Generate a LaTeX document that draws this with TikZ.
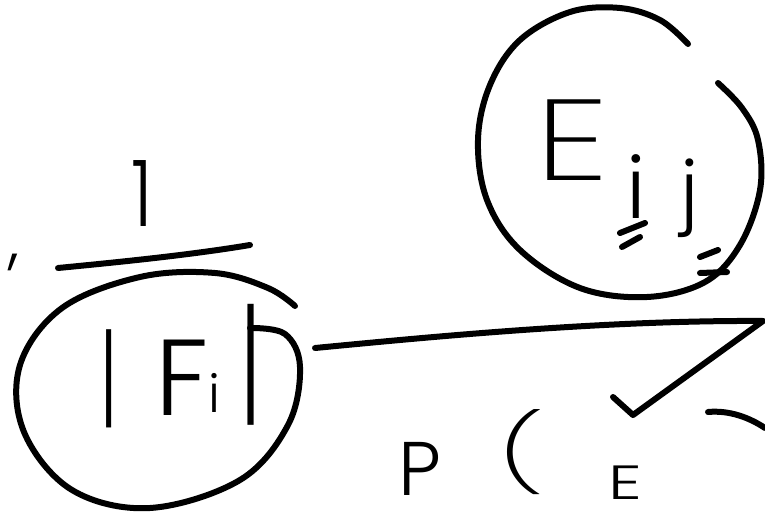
\documentclass[tikz,border=0pt]{standalone}
\usepackage{fontspec}
\newfontfamily\hand{Poppins Light}
\newfontfamily\handthin{Poppins ExtraLight}
\begin{document}
\begin{tikzpicture}[x=1pt,y=-1pt,
  ink/.style={line width=6pt,line cap=round,line join=round,black},
  hw/.style={inner sep=0pt,outer sep=0pt,font=\hand\fontsize{#1}{#1}\selectfont},
  hwt/.style={inner sep=0pt,outer sep=0pt,font=\handthin\fontsize{#1}{#1}\selectfont}]
\useasboundingbox[fill=white] (0,0) rectangle (765,513);
% ---- left part: , 1 / |F_i|
\node[hw=64] (comma) at (14,262) {,};
\node[hw=92,xscale=0.8] (one) at (142,194) {1};
\coordinate (fracL) at (58,268);
\coordinate (fracR) at (250,245);
\draw[ink] (fracL) .. controls (120,262) and (190,255) .. (fracR);
\node[hwt=112] (lbar) at (109,379) {|};
\node[hw=108] (F) at (182,378) {F};
\node[hw=52] (fi) at (214,393) {i};
\node[hwt=138] (rbar) at (251,365) {|};
\draw[ink] plot[smooth,tension=0.6] coordinates {(250,328) (285,334) (300,367) (288,425) (240,480) (150,508) (72,490) (24,432) (20,365) (62,308) (140,277) (215,273) (268,288) (295,306)};
% ---- circle E_ij
\node[hwt=115,xscale=1.3] (E) at (572,140) {E};
\node[hw=85] (ei) at (636,187) {i};
\node[hw=78] (ej) at (690,198) {j};
\draw[ink] plot[smooth,tension=0.6] coordinates {(688,44) (660,20) (620,8) (570,12) (520,40) (490,85) (478,140) (487,200) (520,250) (580,288) (647,297) (705,282) (740,245) (760,190) (758,140) (742,108) (718,83)};
\draw[ink] (620,233) -- (645,223);
\draw[ink] (622,247) -- (640,237);
\draw[ink] (700,257) -- (718,250);
\draw[ink] (700,273) -- (727,272);
% ---- connector with check mark
\coordinate (cstart) at (315,348);
\coordinate (tip) at (763,321);
\coordinate (vee) at (633,415);
\coordinate (vend) at (613,397);
\draw[ink] (cstart) .. controls (420,338) and (600,320) .. (tip) -- (vee) -- (vend);
% ---- bottom: P( E
\node[hw=76,anchor=north west] (P) at (398,442) {P};
\node[hwt=76,xscale=1.7,anchor=north] (paren) at (522,410) {(};
\node[hw=48,xscale=1.4,anchor=north west] (E2) at (608,466) {E};
\coordinate (arcA) at (708,412);
\coordinate (arcB) at (765,428);
\draw[ink] (arcA) .. controls (730,410) and (750,418) .. (arcB);
\end{tikzpicture}
\end{document}
